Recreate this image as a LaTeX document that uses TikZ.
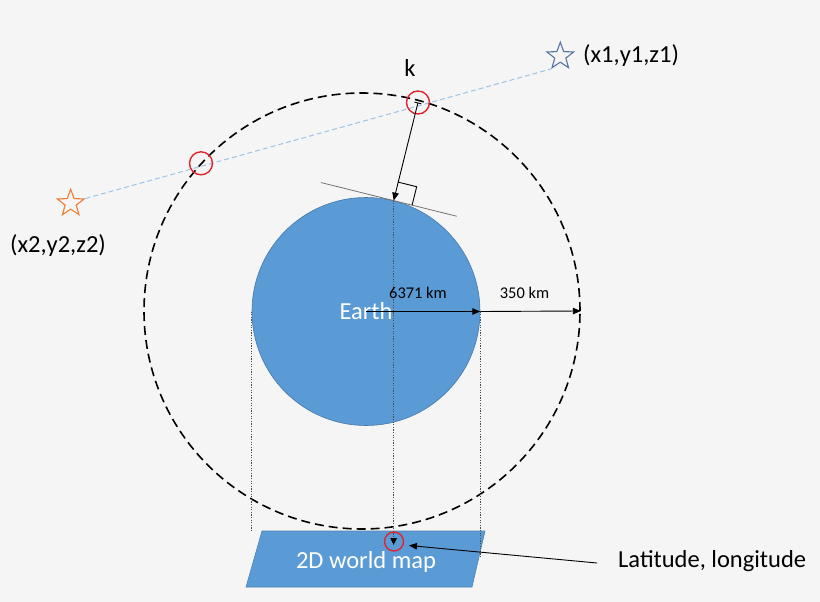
\documentclass[tikz,border=0pt]{standalone}
\usepackage{fontspec}
\setmainfont{Carlito}
\usepackage{tikz}
\usetikzlibrary{arrows.meta,shapes.geometric,calc}
\definecolor{bggray}{RGB}{245,245,245}
\definecolor{earthblue}{RGB}{91,155,213}
\definecolor{earthedge}{RGB}{70,120,170}
\definecolor{hitred}{RGB}{222,38,46}
\definecolor{raylight}{RGB}{157,195,230}
\definecolor{starblue}{RGB}{84,116,164}
\definecolor{starorange}{RGB}{237,125,49}
\newcommand{\bigtxt}{\fontsize{24.5}{29}\selectfont}
\newcommand{\kmtxt}{\fontsize{16.4}{20}\selectfont}

\begin{document}
\begin{tikzpicture}[x=1pt, y=-1pt, >={Triangle[length=8pt,width=6.5pt]},
      planet/.style={circle,fill=earthblue,draw=earthedge,line width=0.6pt,minimum size=228pt,inner sep=0pt,text=white,font=\bigtxt},
      orbit/.style={circle,draw=black,line width=1.6pt,dash pattern=on 9pt off 5pt,minimum size=436pt,inner sep=0pt},
      hit/.style={circle,draw=hitred,line width=1.4pt,minimum size=23pt,inner sep=0pt},
      starpt/.style={star,star points=5,star point ratio=2.4,minimum size=28pt,inner sep=0pt,line width=1.1pt},
      txt/.style={inner sep=0pt,text=black,font=\bigtxt},
      kmlbl/.style={inner sep=0pt,text=black,font=\kmtxt},
      ray/.style={draw=raylight,line width=1pt,dash pattern=on 5pt off 3pt},
      proj/.style={draw=black!70,line width=0.9pt,dash pattern=on 1.2pt off 1.4pt},
      radius/.style={draw=black,line width=0.9pt,->}]
      \path[fill=bggray] (0,0) rectangle (820,602);

      % orbit, earth and the map
      \node[orbit]    at (362,311)  (orb) {};
      \node[planet]   at (366,311.5)  (earth) {Earth};
      \coordinate (mtl) at (262,531);
      \coordinate (mtr) at (485,531);
      \coordinate (mbr) at (472,587);
      \coordinate (mbl) at (246,587);
      \draw[fill=earthblue,draw=earthblue!85!black,line width=0.6pt] (mtl) -- (mtr) -- (mbr) -- (mbl) -- cycle;
      \node[txt,text=white,anchor=base]  at (366,568)  (map) {2D world map};

      % the two points and the ray between them
      \node[starpt,draw=starblue]    at (560.3,56.3)  (s1) {};
      \node[starpt,draw=starorange]  at (70.7,203.3)  (s2) {};
      \draw[ray] (s2.outer point 5) -- (s1.outer point 3);
      \node[txt,anchor=base west]  at (583,63)  (p1) {(x1,y1,z1)};
      \node[txt,anchor=base]       at (58,252)  (p2) {(x2,y2,z2)};

      % crossings with the orbit
      \node[hit]  at (201,163.3)  (h2) {};
      \node[hit]  at (418,102.5)  (k) {};
      \node[txt,anchor=base]  at (410,77)  (klbl) {k};

      % foot point, tangent and right angle
      \coordinate (foot) at (earth.76);
      \coordinate (tl) at ($(foot)!75pt!90:(k.center)$);
      \coordinate (tr) at ($(foot)!65pt!-90:(k.center)$);
      \draw[draw=black!55,line width=0.8pt] (tl) -- (tr);
      \coordinate (q1) at ($(foot)!19pt!(k.center)$);
      \coordinate (q2) at ($(foot)!19pt!(tr)$);
      \draw[line width=0.9pt] (q1) -- ($(q1)+(q2)-(foot)$) -- (q2);
      \draw[line width=0.9pt,{Bar[width=7pt]}->] (k.center) -- (foot);

      % projection down to the map
      \coordinate (pin) at (394,545);
      \coordinate (mr) at (479,558);
      \draw[proj] (earth.west) -- (earth.west |- mtl);
      \draw[proj] (earth.east) -- (earth.east |- mr);
      \draw[proj,-{Triangle[length=7pt,width=6.5pt,color=black]}] (foot) -- (foot |- pin);
      \node[hit,minimum size=19pt]  at (394,541.5)  (ll) {};

      % radii
      \draw[radius] (earth.center) -- (earth.east);
      \draw[radius] (earth.east) -- (orb.east);
      \node[kmlbl,anchor=base]  at (418,298)  (r1) {6371 km};
      \node[kmlbl,anchor=base]  at (524.5,298)  (r2) {350 km};

      % latitude, longitude
      \node[txt,anchor=base west]  at (618,567)  (lat) {Latitude, longitude};
      \coordinate (latfrom) at (597,563);
      \coordinate (latto) at (409,545.5);
      \draw[radius] (latfrom) -- (latto);
    \end{tikzpicture}
\end{document}
